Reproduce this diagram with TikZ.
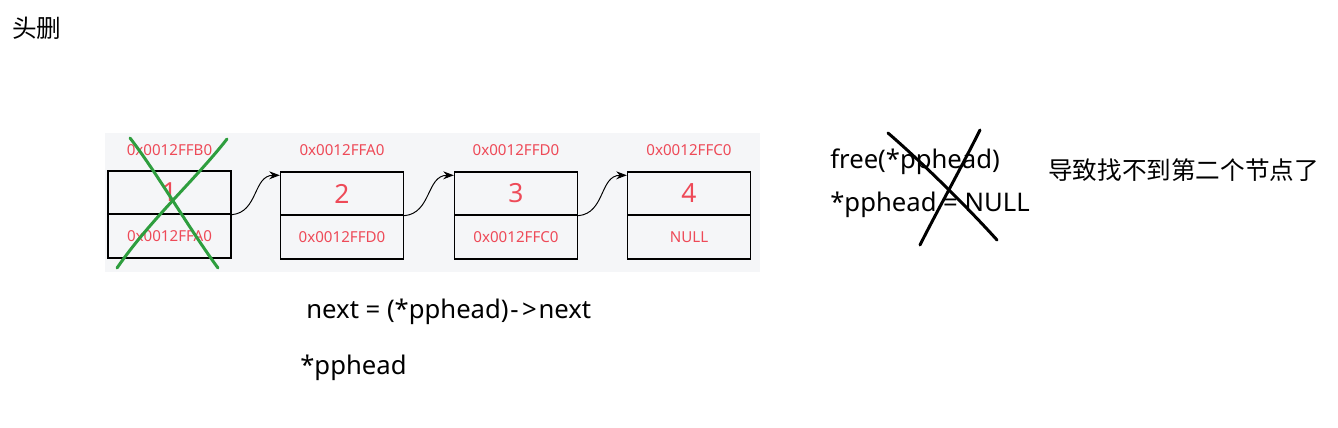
\documentclass[tikz,border=0pt]{standalone}
\usepackage{fontspec}
\setmainfont{Noto Sans}
\newfontfamily\cjk{Noto Sans CJK SC}
\usetikzlibrary{arrows.meta,positioning}
\definecolor{addrred}{HTML}{EE4A58}
\definecolor{panelgray}{HTML}{F5F6F8}
\definecolor{crossgreen}{HTML}{2E9E3E}

\begin{document}
\begin{tikzpicture}[
    txt/.style={anchor=west, inner sep=0pt, font=\fontsize{14.6}{16}\selectfont},
    addr/.style={inner sep=0pt, text=addrred, font=\fontsize{8.6}{10}\selectfont},
    valcell/.style={
      draw, line width=0.8pt, inner sep=0pt,
      minimum width=2.46cm, minimum height=0.86cm,
      text=addrred, font=\fontsize{15}{17}\selectfont
    },
    ptrcell/.style={
      draw, line width=0.8pt, inner sep=0pt,
      minimum width=2.46cm, minimum height=0.88cm,
      text=addrred, font=\fontsize{8.6}{10}\selectfont
    },
    link/.style={-{Stealth[length=6pt,width=4.5pt]}, line width=0.55pt},
    strike/.style={line width=1.7pt, line cap=round}
  ]
    \useasboundingbox (0,0) rectangle (26.76,-8.54);

    % Title
    \node[txt, font=\fontsize{14}{16}\selectfont\cjk] (title) at (0.24,-0.56) {头删};

    % Panel behind the list
    \fill[panelgray] (2.10,-2.66) rectangle (15.20,-5.44);

    % List nodes: value on top, next pointer below
    \node[valcell] (v1) at (3.39,-3.85) {1};
    \node[ptrcell] (p1) at (3.39,-4.72) {0x0012FFA0};
    \node[addr] (a1) at (3.39,-3.00) {0x0012FFB0};

    \node[valcell] (v2) at (6.84,-3.87) {2};
    \node[ptrcell] (p2) at (6.84,-4.74) {0x0012FFD0};
    \node[addr] (a2) at (6.84,-3.00) {0x0012FFA0};

    \node[valcell] (v3) at (10.32,-3.87) {3};
    \node[ptrcell] (p3) at (10.32,-4.74) {0x0012FFC0};
    \node[addr] (a3) at (10.32,-3.00) {0x0012FFD0};

    \node[valcell] (v4) at (13.78,-3.87) {4};
    \node[ptrcell] (p4) at (13.78,-4.74) {NULL};
    \node[addr] (a4) at (13.78,-3.00) {0x0012FFC0};

    % next links
    \draw[link] (v1.south east) to[out=5,in=180,looseness=1.1] ([yshift=-0.08cm]v2.north west);
    \draw[link] (v2.south east) to[out=5,in=180,looseness=1.1] ([yshift=-0.08cm]v3.north west);
    \draw[link] (v3.south east) to[out=5,in=180,looseness=1.1] ([yshift=-0.08cm]v4.north west);

    % First node crossed out
    \draw[strike, crossgreen] (2.60,-2.76) .. controls (3.10,-3.40) and (3.80,-4.60) .. (4.36,-5.36);
    \draw[strike, crossgreen] (4.54,-2.78) .. controls (3.90,-3.60) and (3.00,-4.40) .. (2.34,-5.36);

    % Code lines
    \node[txt] (nextln) at (6.12,-6.24) {next = (*pphead)\kern1pt-\kern2pt>\kern1pt next};
    \node[txt] (headln) at (6.00,-7.36) {*pphead};

    \node[txt] (freeln) at (16.60,-3.24) {free(*pphead)};
    \node[txt] (nullln) at (16.60,-4.10) {*pphead = NULL};
    \draw[strike] (17.76,-2.66) .. controls (18.50,-3.30) and (19.40,-4.20) .. (19.94,-4.80);
    \draw[strike] (19.60,-2.60) .. controls (19.20,-3.40) and (18.70,-4.30) .. (18.40,-4.90);

    \node[txt, font=\fontsize{14}{16}\selectfont\cjk] (note) at (20.96,-3.40) {导致找不到第二个节点了};
  \end{tikzpicture}
\end{document}
